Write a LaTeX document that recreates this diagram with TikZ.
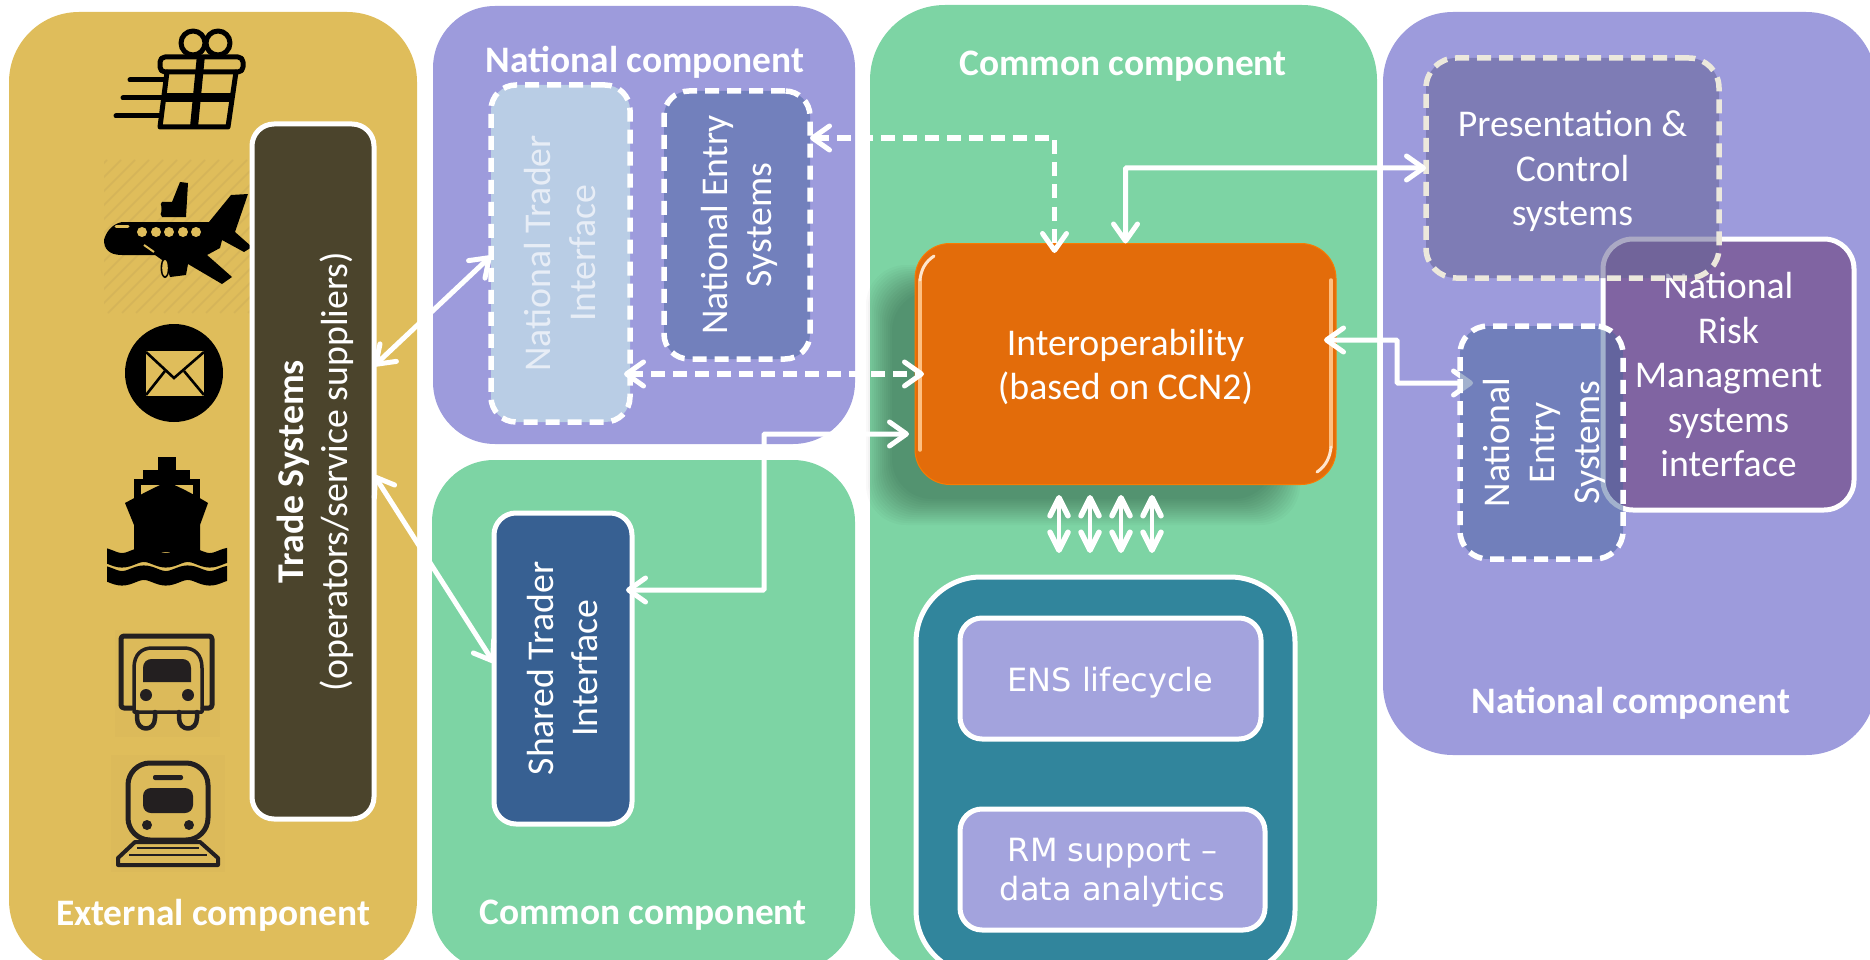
\documentclass[tikz,border=0pt]{standalone}
\usepackage{fontspec}
\setmainfont{Carlito}
\newfontfamily\tahomaish{DejaVu Sans}
\usetikzlibrary{arrows.meta,calc}
\definecolor{cExt}{HTML}{DFBD5B}
\definecolor{cNat}{HTML}{9D9BDC}
\definecolor{cCom}{HTML}{7DD4A4}
\definecolor{cTrade}{HTML}{4B442C}
\definecolor{cNT}{HTML}{B9CDE5}
\definecolor{cNE}{HTML}{7280BC}
\definecolor{cShared}{HTML}{376092}
\definecolor{cOrange}{HTML}{E36C0A}
\definecolor{cTeal}{HTML}{31859C}
\definecolor{cEns}{HTML}{A3A3DD}
\definecolor{cPres}{HTML}{666495}
\definecolor{cNE2}{HTML}{47659C}
\definecolor{cRisk}{HTML}{8064A2}
\definecolor{cCream}{HTML}{ECE8DC}
\definecolor{cDark}{HTML}{231F20}
\definecolor{cHatch}{HTML}{CDAE58}
% rotated lines of text, moved 3.5px to the right of the centre of their box
\newcommand{\vtext}[1]{\leavevmode\hspace*{7pt}\rotatebox{90}{\begin{tabular}{@{}c@{}}#1\end{tabular}}}
% horizontal lines of text, moved #1 downwards from the centre of their box
\newcommand{\htext}[2]{\raisebox{-#1pt}[\height][\depth]{\begin{tabular}{@{}c@{}}#2\end{tabular}}}
\tikzset{
  panel/.style={rectangle,rounded corners=70pt,inner sep=0pt,outer sep=0pt},
  paneltitle/.style={text=white,inner sep=0pt,font=\fontsize{37.4}{40}\selectfont\bfseries},
  boxed/.style={rectangle,rounded corners=22pt,inner sep=0pt,outer sep=0pt,draw=white,line width=5pt,text=white,align=center,font=\fontsize{37.8}{44.5}\selectfont},
  dashbox/.style={boxed,line width=5.5pt,dash pattern=on 14pt off 8pt},
  tahomabox/.style={boxed,font=\tahomaish\fontsize{32}{38.5}\selectfont},
  conn/.style={draw=white,line width=5pt,>={Straight Barb[length=17pt,width=24pt,line width=5pt,round]},<->},
  dconn/.style={conn,line width=5.5pt,dash pattern=on 14pt off 8pt},
  fatconn/.style={draw=white,line width=3.5pt,>={Straight Barb[length=18pt,width=18pt,line width=5.5pt,round]},<->},
  ink/.style={draw=black,line width=5pt,line join=round,line cap=round},
  darkink/.style={draw=cDark,line width=4pt,line join=round,line cap=round},
  hatch/.style={draw=cHatch,line width=1.6pt,opacity=.55}
}
\begin{document}
\begin{tikzpicture}[x=1pt,y=-1pt]
\path[use as bounding box] (0,0) rectangle (1870,960);
\clip (0,0) rectangle (1870,960);
% panels
\node[panel,fill=cExt,minimum width=408,minimum height=958] (pExt) at (213,491) {};
\node[panel,fill=cNat,rounded corners=62pt,minimum width=422,minimum height=438] (pNat) at (644,225) {};
\node[panel,fill=cCom,rounded corners=62pt,minimum width=423,minimum height=510] (pComL) at (643.5,715) {};
\node[panel,fill=cCom,rounded corners=75pt,minimum width=507,minimum height=970] (pComC) at (1123.5,490) {};
\node[panel,fill=cNat,minimum width=493,minimum height=743] (pNatR) at (1629.5,383.5) {};
\node[paneltitle] (tExt) at (213,915.5) {External component};
\node[paneltitle] (tNat) at (645,62.5) {National component};
\node[paneltitle] (tComL) at (643,915.5) {Common component};
\node[paneltitle] (tComC) at (1123,66.5) {Common component};
\node[paneltitle] (tNatR) at (1631,703.5) {National component};
% hatch backgrounds
\begin{scope}
\clip (104,160) rectangle (252,313);
\foreach \k in {-60,-46,...,260} \draw[hatch] (\k,313) -- (\k+153,160);
\end{scope}
\fill[cHatch,opacity=.15] (115,630) rectangle (220,737);
\fill[cHatch,opacity=.15] (111,755) rectangle (225,872);
% gift
\draw[ink] (167,72) -- (160,127) -- (228,127) -- (236,72);
\draw[ink,rounded corners=5pt] (160,57) rectangle (243,72);
\draw[ink] (193,43) circle[radius=12];
\draw[ink] (218,43) circle[radius=12];
\draw[ink,line width=8pt,line cap=butt] (201,55) -- (194,127);
\draw[ink,line width=9pt,line cap=butt] (162,98) -- (233,98);
\draw[ink] (130,80) -- (165,80);
\draw[ink] (123,98) -- (163,98);
\draw[ink] (116,116) -- (160,116);
% plane
\fill[black] (180,182) -- (188,183) -- (186,217) -- (162,217) -- (158,209) -- (162,202) -- (172,202) -- cycle;
\fill[cExt] (159,209) ellipse[x radius=2.5,y radius=6];
\fill[black] (122,222) -- (209,222) -- (231,195) -- (248,194) -- (235,232) -- (252,247) -- (244,252) -- (222,240) -- (220,248) -- (207,255) -- (215,262) -- (232,277) -- (222,284) -- (188,264) -- (186,275) -- (170,277) -- (165,262) -- (155,255) -- (122,255) .. controls (108,255) and (104,248) .. (104,240) .. controls (106,232) and (112,224) .. (122,222) -- cycle;
\fill[black] (165,268) ellipse[x radius=4.5,y radius=10];
\fill[cExt] (165,268) ellipse[x radius=2.8,y radius=8];
\draw[cExt,line width=3pt,line cap=round] (116,226) -- (128,226);
\draw[cExt,line width=2pt] (144,245) -- (154,252);
\foreach \wx in {142,156,169,183,196} \fill[cExt] (\wx,232) circle[radius=5];
% mail
\fill[black] (174,373) circle[radius=49];
\fill[cExt] (146,351) rectangle (204,396);
\draw[black,line width=2.6pt] (146,352) -- (174,378) -- (204,352);
\draw[black,line width=2.6pt] (146,395) -- (165,371);
\draw[black,line width=2.6pt] (204,395) -- (184,371);
% ship
\fill[black] (158,457) rectangle (176,470);
\fill[black] (143,470) rectangle (190,480);
\fill[black] (134,479) rectangle (200,500);
\fill[cExt] (141,485) rectangle (193,496);
\fill[black] (125,503) .. controls (140,495) and (155,487) .. (167,482) .. controls (180,487) and (195,495) .. (208,503) -- (200,525) -- (200,552) -- (134,552) -- (134,525) -- cycle;
\begin{scope}
\clip (107,540) rectangle (227,590);
\draw[black,line width=14.5pt] plot[smooth,domain=100:234,samples=50] (\x,{557.5+2.8*cos((\x-122)*8.2)});
\draw[black,line width=14.5pt] plot[smooth,domain=100:234,samples=50] (\x,{575.5+2.8*cos((\x-122)*8.2)});
\end{scope}
% truck
\draw[darkink,line width=5pt,rounded corners=3pt] (132,708) -- (121,708) -- (121,636) -- (212,636) -- (212,708) -- (203,708);
\draw[darkink,line width=3.5pt] (134,712) -- (134,668) .. controls (134,654) and (142,648) .. (152,648) -- (184,648) .. controls (194,648) and (202,654) .. (202,668) -- (202,712) -- cycle;
\fill[cDark] (143,682) -- (143,668) .. controls (143,662) and (147,659) .. (152,659) -- (182,659) .. controls (187,659) and (191,662) .. (191,668) -- (191,682) -- cycle;
\fill[cDark] (146,695) circle[radius=6];
\fill[cDark] (188,695) circle[radius=6];
\draw[darkink,line width=4.5pt] (137,712) -- (137,718) .. controls (137,732) and (155,732) .. (155,718) -- (155,712);
\draw[darkink,line width=4.5pt] (179,712) -- (179,718) .. controls (179,732) and (197,732) .. (197,718) -- (197,712);
% train
\draw[darkink,line width=5pt,rounded corners=22pt] (128,840) rectangle (208,763);
\fill[cDark,rounded corners=2pt] (153,775) rectangle (183,780);
\fill[cDark,rounded corners=8pt] (143,788) rectangle (193,813);
\fill[cDark] (147,825) circle[radius=5];
\fill[cDark] (189,825) circle[radius=5];
\draw[darkink] (135,842) -- (118,858) -- (118,865) -- (218,865) -- (218,858) -- (200,842) -- cycle;
\draw[cDark,line width=1.5pt] (137,848) -- (199,848);
\draw[cDark,line width=1.5pt] (129,855) -- (207,855);
% interoperability shadow
\foreach \g in {0,2,...,26} \fill[black,opacity=.024,rounded corners=40pt] (866+\g,265+\g) rectangle (1300-\g,525-\g);
% boxes
\node[boxed,fill=cTrade,minimum width=122,minimum height=695] (trade) at (313,471.5) {\vtext{\textbf{Trade Systems}\\(operators/service suppliers)}};
\node[dashbox,fill=cNT,text=white!65!cNT,rounded corners=25pt,minimum width=139,minimum height=337] (nt) at (560.5,253.5) {\vtext{National Trader\\Interface}};
\node[dashbox,fill=cNE,rounded corners=25pt,minimum width=146,minimum height=268] (ne) at (737,225) {\vtext{National Entry\\Systems}};
\node[boxed,fill=cShared,minimum width=138,minimum height=311] (shared) at (563,668.5) {\vtext{Shared Trader\\Interface}};
\node[rectangle,rounded corners=35pt,inner sep=0pt,outer sep=0pt,fill=cOrange,draw=orange!75!cOrange,line width=1pt,text=white,align=center,font=\fontsize{37.8}{44.5}\selectfont,minimum width=421,minimum height=241] (ii) at (1125.5,364) {\htext{4.5}{Interoperability\\(based on CCN2)}};
\draw[orange!50!white,line width=3.5pt,line cap=round] ($(ii.west)+(5,-84)$) -- ($(ii.west)+(5,86)$);
\draw[orange!50!white,line width=3.5pt,line cap=round] ($(ii.east)+(-5,-84)$) -- ($(ii.east)+(-5,83)$);
\draw[white!80!orange,line width=3pt,line cap=round] ($(ii.west)+(5,-84)$) .. controls ($(ii.west)+(6,-94)$) and ($(ii.west)+(10,-102)$) .. ($(ii.west)+(19,-108)$);
\draw[white!80!orange,line width=3pt,line cap=round] ($(ii.east)+(-5,83)$) .. controls ($(ii.east)+(-6,93)$) and ($(ii.east)+(-10,102)$) .. ($(ii.east)+(-19,108)$);
\node[boxed,fill=cTeal,rounded corners=65pt,line width=5pt,minimum width=379,minimum height=398] (teal) at (1105.5,776) {};
\node[tahomabox,fill=cEns,minimum width=301,minimum height=121] (ens) at (1110.5,678.5) {\htext{5}{ENS lifecycle}};
\node[tahomabox,fill=cEns,minimum width=305,minimum height=121] (rm) at (1112.5,869.5) {\htext{4}{RM support –\\data analytics}};
\node[boxed,fill=cRisk,rounded corners=30pt,minimum width=251,minimum height=271] (risk) at (1728.5,374.5) {\htext{4.5}{National\\Risk\\Managment\\systems\\interface}};
\node[dashbox,draw=cCream,fill=cPres,fill opacity=.55,text opacity=1,rounded corners=30pt,minimum width=293,minimum height=220] (pres) at (1572.5,168) {\htext{4.5}{Presentation \&\\Control\\systems}};
% connectors
\draw[conn] (trade.east |- 0,366) -- (nt.west |- 0,256);
\draw[conn] (trade.east |- 0,475) -- (shared.west |- 0,663);
\draw[dconn] (ne.east |- 0,138) -| ($(ii.north |- 0,253)+(-71,0)$);
\draw[dconn] ($(nt.east |- 0,374)+(-6,0)$) -- ($(ii.west |- 0,374)+(9,0)$);
\draw[conn,rounded corners=1pt] ($(shared.east |- 0,590)+(-6,0)$) -| (764,434) -- ($(ii.west |- 0,434)+(-6,0)$);
\draw[conn,rounded corners=1pt] (ii.north) |- (pres.west |- 0,168);
\draw[conn,rounded corners=1pt] ($(ii.east |- 0,340)+(-12,0)$) -| (1397,383) -- (1473,383);
\foreach \ax in {1059,1090,1121,1152} \draw[fatconn] (\ax,495) -- (\ax,553);
% second national entry box over its arrow
\node[dashbox,fill=cNE2,fill opacity=.5,text opacity=1,font=\fontsize{37.8}{45}\selectfont,rounded corners=28pt,minimum width=163,minimum height=233] (ne2) at (1541.5,442.5) {\vtext{National\\Entry\\Systems}};
\end{tikzpicture}
\end{document}
